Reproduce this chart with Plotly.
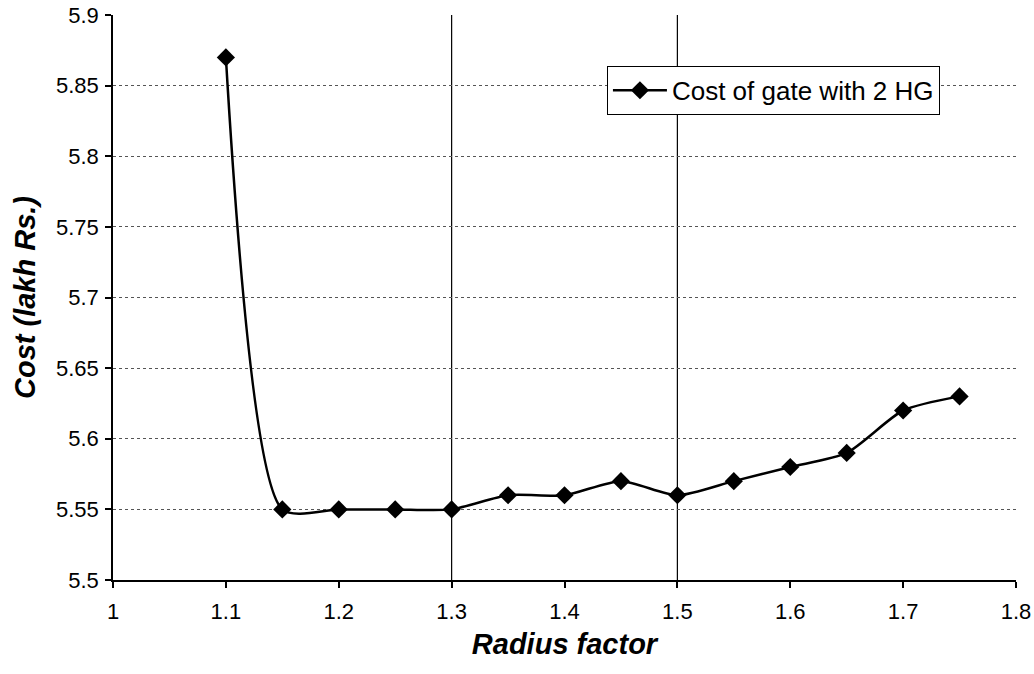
import plotly.graph_objects as go

radius_factor = [1.1, 1.15, 1.2, 1.25, 1.3, 1.35, 1.4, 1.45, 1.5, 1.55, 1.6, 1.65, 1.7, 1.75]
cost = [5.87, 5.55, 5.55, 5.55, 5.55, 5.56, 5.56, 5.57, 5.56, 5.57, 5.58, 5.59, 5.62, 5.63]
series_name = "Cost of gate with 2 HG"
vlines_x = [1.3, 1.5]

FONT = "Liberation Sans, Arial, sans-serif"

fig = go.Figure()
fig.add_trace(go.Scatter(
    x=radius_factor, y=cost, name=series_name, mode="lines+markers",
    line=dict(color="black", width=2.5, shape="spline", smoothing=0.7),
    marker=dict(symbol="diamond", size=14, color="black"),
    showlegend=True,
))

for xv in vlines_x:
    fig.add_shape(type="line", xref="x", yref="paper", x0=xv, x1=xv, y0=0, y1=1,
                  line=dict(color="black", width=1.2), layer="below")

fig.update_layout(
    width=1034, height=674,
    margin=dict(l=113, r=18, t=15, b=94),
    paper_bgcolor="white", plot_bgcolor="white",
    font=dict(family=FONT, color="black", size=22),
    showlegend=True,
    legend=dict(
        x=0.547, y=0.91, xanchor="left", yanchor="top",
        bordercolor="black", borderwidth=1, bgcolor="white",
        font=dict(size=26, family=FONT, color="black"),
        itemwidth=54, tracegroupgap=0,
    ),
)

fig.update_xaxes(
    range=[1, 1.8], dtick=0.1, tick0=1,
    showline=True, linecolor="black", linewidth=1.5,
    ticks="outside", ticklen=6, tickcolor="black", tickwidth=1.5,
    showgrid=False, zeroline=False, automargin=False,
    tickfont=dict(size=22, family=FONT),
    ticklabelstandoff=5,
    title=dict(text="<b><i>Radius factor</i></b>", font=dict(size=29, family=FONT), standoff=11),
)
fig.update_yaxes(
    range=[5.5, 5.9], dtick=0.05, tick0=5.5,
    showline=True, linecolor="black", linewidth=1.5,
    ticks="outside", ticklen=6, tickcolor="black", tickwidth=1.5,
    showgrid=True, gridcolor="#555", gridwidth=1, griddash="dot",
    zeroline=False, automargin=False,
    tickfont=dict(size=22, family=FONT),
    ticklabelstandoff=2,
    title=dict(text="<b><i>Cost (lakh Rs.)</i></b>", font=dict(size=29, family=FONT), standoff=12),
)

fig.write_html("out.html")
